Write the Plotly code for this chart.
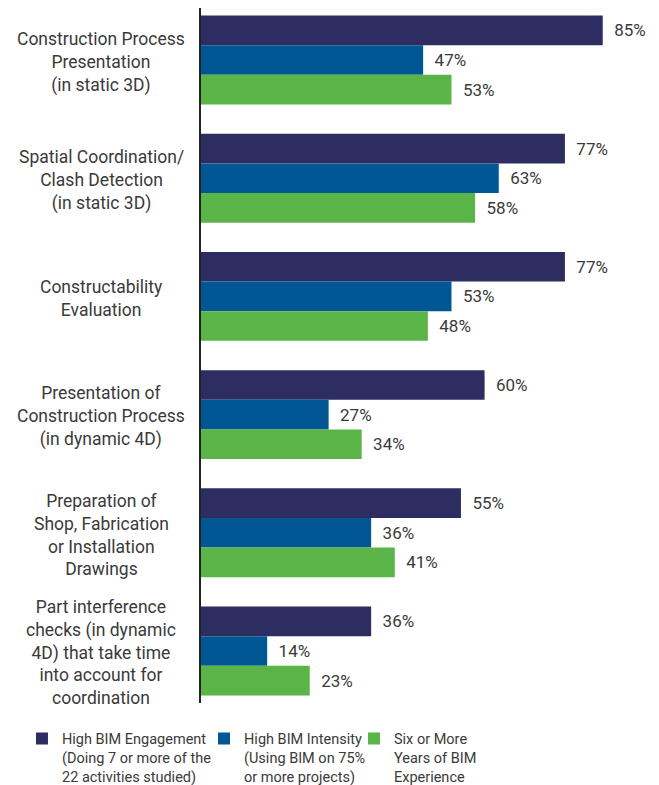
import plotly.graph_objects as go

categories = [
    "Construction Process<br>Presentation<br>(in static 3D)",
    "Spatial Coordination/<br>Clash Detection<br>(in static 3D)",
    "Constructability<br>Evaluation",
    "Presentation of<br>Construction Process<br>(in dynamic 4D)",
    "Preparation of<br>Shop, Fabrication<br>or Installation<br>Drawings",
    "Part interference<br>checks (in dynamic<br>4D) that take time<br>into account for<br>coordination",
]
series_names = [
    "High BIM Engagement<br>(Doing 7 or more of the<br>22 activities studied)",
    "High BIM Intensity<br>(Using BIM on 75%<br>or more projects)",
    "Six or More<br>Years of BIM<br>Experience",
]
engagement = [85, 77, 77, 60, 55, 36]
intensity = [47, 63, 53, 27, 36, 14]
experience = [53, 58, 48, 34, 41, 23]
colors = ["#2e2d62", "#005793", "#5bb447"]

TEXT_COLOR = "#3a3a3a"
FONT = "Roboto"

legend_ids = ["legend", "legend2", "legend3"]
legend_x = [-0.3987, 0.0067, 0.3407]

fig = go.Figure()
for name, vals, col, lid in zip(series_names, [engagement, intensity, experience], colors, legend_ids):
    fig.add_trace(go.Bar(
        y=categories, x=vals, name=name, orientation="h", legend=lid,
        marker=dict(color=col, line=dict(width=0)),
        text=["\u00a0\u00a0" + f"{v}%" for v in vals],
        textposition="outside", cliponaxis=False, constraintext="none",
        textfont=dict(family=FONT, size=17, color=TEXT_COLOR),
        hoverinfo="skip",
    ))

for c in categories:
    fig.add_annotation(
        x=-0.2227, xref="paper", y=c, yref="y", text=c, showarrow=False,
        xanchor="center", yanchor="middle", align="center", yshift=-2,
        font=dict(family=FONT, size=17.5, color=TEXT_COLOR),
    )

legend_common = dict(orientation="h", xanchor="left", y=-0.028, yanchor="top",
                     valign="top", font=dict(family=FONT, size=14.5, color=TEXT_COLOR),
                     bgcolor="rgba(0,0,0,0)")

fig.update_layout(
    width=659, height=785,
    margin=dict(l=193, r=17, t=0, b=90, autoexpand=False),
    paper_bgcolor="white", plot_bgcolor="white",
    barmode="group", bargap=0.248, bargroupgap=0,
    font=dict(family=FONT, color=TEXT_COLOR),
    xaxis=dict(range=[0, 95], showgrid=False, zeroline=False, showticklabels=False, showline=False),
    yaxis=dict(range=[5.44, -0.44], showgrid=False, zeroline=False, showticklabels=False,
               showline=True, linecolor="#222222", linewidth=1.5, ticks=""),
    legend=dict(x=legend_x[0], **legend_common),
    legend2=dict(x=legend_x[1], **legend_common),
    legend3=dict(x=legend_x[2], **legend_common),
    showlegend=True,
)

fig.write_html("out.html")
